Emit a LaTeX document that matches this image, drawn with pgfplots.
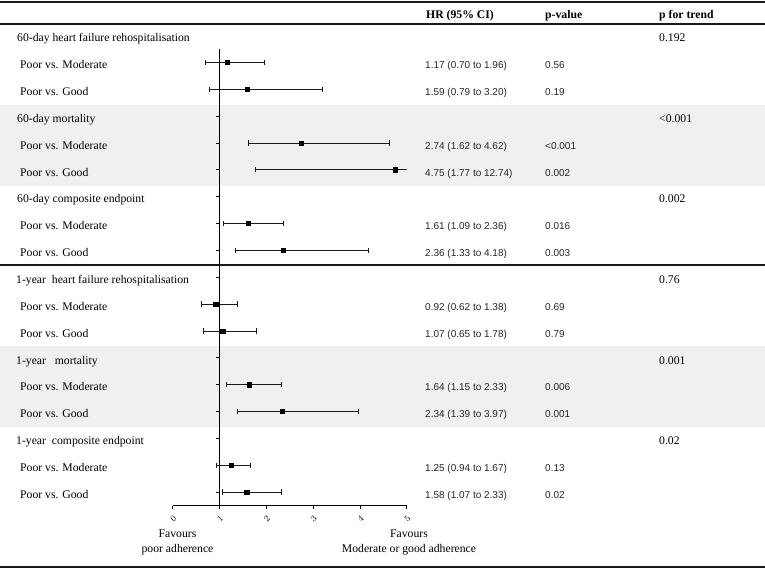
\documentclass[border=0pt]{standalone}
\usepackage{fontspec}
\setmainfont{Liberation Serif}
\newfontfamily\sansf{Liberation Sans}
\usepackage{pgfplots}
\pgfplotsset{compat=1.18}
\usepackage{pgfplotstable}

% row = position from top (0 = first group header)
\pgfplotstableread{
row hr lo hi
1 1.17 0.70 1.96
2 1.59 0.79 3.20
4 2.74 1.62 4.62
5 4.75 1.77 12.74
7 1.61 1.09 2.36
8 2.36 1.33 4.18
10 0.92 0.62 1.38
11 1.07 0.65 1.78
13 1.64 1.15 2.33
14 2.34 1.39 3.97
16 1.25 0.94 1.67
17 1.58 1.07 2.33
}\est

\definecolor{band}{RGB}{240,240,240}
\definecolor{ink}{RGB}{25,25,25}

\begin{document}
\begin{tikzpicture}
\begin{scope}[x=1pt,y=-1pt]
\useasboundingbox (0,0) rectangle (765,570);
\fill[band] (0,105) rectangle (765,185.5);
\fill[band] (0,346) rectangle (765,426.5);
\draw[ink,line width=1.1pt] (0,2)--(765,2);
\draw[ink,line width=1.1pt] (0,24)--(765,24);
\draw[ink,line width=1.1pt] (0,265)--(765,265);
\draw[ink,line width=1.1pt] (0,567)--(765,567);
% headers
\begin{scope}[every node/.style={font=\fontsize{11.7}{14}\selectfont\bfseries, anchor=base west, inner sep=0pt}]
\node at (426,18) {HR (95\% CI)};
\node at (545,18) {p-value};
\node at (659,18) {p for trend};
\end{scope}
% left labels
\begin{scope}[every node/.style={font=\fontsize{11.7}{14}\selectfont, anchor=base west, inner sep=0pt}]
\node at (17,{41.7+26.86*0}) {60-day heart failure rehospitalisation};
\node at (17,{41.7+26.86*3}) {60-day mortality};
\node at (17,{41.7+26.86*6}) {60-day composite endpoint};
\node at (16,{41.7+26.86*9}) {1-year\ \ heart failure rehospitalisation};
\node at (16,{41.7+26.86*12}) {1-year\ \ \ mortality};
\node at (16,{41.7+26.86*15}) {1-year\ \ composite endpoint};
\foreach \r in {1,4,7,10,13,16} \node at (20,{41.7+26.86*\r}) {Poor vs. Moderate};
\foreach \r in {2,5,8,11,14,17} \node at (20,{41.7+26.86*\r}) {Poor vs. Good};
% p for trend
\node at (659,{41.7+26.86*0}) {0.192};
\node at (659,{41.7+26.86*3}) {<0.001};
\node at (659,{41.7+26.86*6}) {0.002};
\node at (659,{41.7+26.86*9}) {0.76};
\node at (659,{41.7+26.86*12}) {0.001};
\node at (659,{41.7+26.86*15}) {0.02};
% bottom labels
\node[anchor=base] at (177.5,537) {Favours};
\node[anchor=base] at (177.5,552) {poor adherence};
\node[anchor=base] at (409,537) {Favours};
\node[anchor=base] at (409,552) {Moderate or good adherence};
\end{scope}
% HR and p-values
\begin{scope}[every node/.style={font=\sansf\fontsize{10}{12}\selectfont, anchor=base west, inner sep=0pt, text=black!85}]
\foreach \r/\h/\p in {1/1.17 (0.70 to 1.96)/0.56, 2/1.59 (0.79 to 3.20)/0.19,
  4/2.74 (1.62 to 4.62)/<0.001, 5/4.75 (1.77 to 12.74)/0.002,
  7/1.61 (1.09 to 2.36)/0.016, 8/2.36 (1.33 to 4.18)/0.003,
  10/0.92 (0.62 to 1.38)/0.69, 11/1.07 (0.65 to 1.78)/0.79,
  13/1.64 (1.15 to 2.33)/0.006, 14/2.34 (1.39 to 3.97)/0.001,
  16/1.25 (0.94 to 1.67)/0.13, 17/1.58 (1.07 to 2.33)/0.02}{
  \node at (425,{41.7+26.86*\r}) {\h};
  \node at (545,{41.7+26.86*\r}) {\p};
}
\end{scope}
\end{scope}

\begin{axis}[
  at={(172.7pt,-505.5pt)}, anchor=south west,
  scale only axis, width=234pt, height=456.6pt,
  xmin=0, xmax=5, ymin=0.5, ymax=17.5, y dir=reverse,
  axis x line*=bottom, axis y line*=left, axis y line shift=-46.8pt,
  xtick={0,...,5}, ytick={1,...,17}, yticklabels={},
  tick align=outside, major tick length=3.5pt,
  xticklabel style={rotate=45, font=\fontsize{9}{10}\selectfont, yshift=-1pt},
  axis line style={line width=1pt, black},
  every tick/.style={black, line width=0.8pt},
]
\addplot[only marks, mark=square*, mark size=2.1pt, black,
  error bars/.cd, x dir=both, x explicit,
  error bar style={line width=0.8pt, ink},
  error mark options={rotate=90, mark size=2.6pt, line width=0.8pt, ink}]
  table[x=hr, y=row,
        x error plus expr=\thisrow{hi}-\thisrow{hr},
        x error minus expr=\thisrow{hr}-\thisrow{lo}] {\est};
\end{axis}
\end{tikzpicture}
\end{document}
